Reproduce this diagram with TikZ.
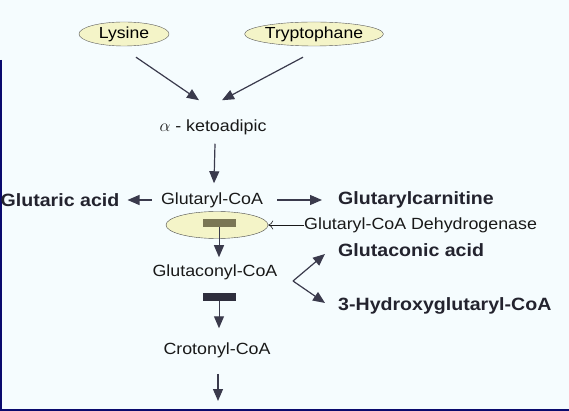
\documentclass[tikz,border=0pt]{standalone}
\usepackage{fontspec}
\setmainfont{Liberation Sans}[FakeStretch=1.1]
\usepackage{tikz}
\usetikzlibrary{arrows.meta,shapes.geometric}

\definecolor{ink}{HTML}{3A3A4C}
\definecolor{pale}{HTML}{F4F4C8}
\definecolor{navy}{HTML}{0A0A6E}

\tikzset{
  mol/.style={inner sep=0pt,text=black!90,font=\fontsize{16.2}{19}\selectfont},
  prod/.style={inner sep=0pt,font=\fontsize{17.8}{21}\bfseries\selectfont,text=ink!60!black},
  src/.style={ellipse,draw=gray!70!black,fill=pale,inner sep=0pt,font=\fontsize{16}{19}\selectfont},
  arr/.style={draw=ink,line width=1.2pt,-{Triangle[length=12pt,width=10pt]}},
  blockbar/.style={draw=none,minimum width=33pt,minimum height=8pt,inner sep=0pt}
}

\begin{document}
\begin{tikzpicture}[x=1pt,y=-1pt]
\fill[white!96!cyan] (0,0) rectangle (569,411);
\useasboundingbox (0,0) rectangle (569,411);
\draw[navy,line width=1.6pt] (0.8,60) -- (0.8,410.2) -- (569,410.2);

% sources
\node[src,minimum width=90pt,minimum height=24pt] (lys) at (124,34) {Lysine};
\node[src,minimum width=126pt,minimum height=24pt] (trp) at (314,34) {Tryptophane};
\node[mol] (keto) at (213,127) {$\alpha$ - ketoadipic};
\draw[arr] ([shift={(12,11)}]lys.south) -- ([shift={(-14,-19)}]keto.north);
\draw[arr] ([shift={(-11,11)}]trp.south) -- ([shift={(9,-19)}]keto.north);

% glutaryl-CoA and side products
\node[mol] (glutcoa) at (212,200) {Glutaryl-CoA};
\node[prod,anchor=west] (glutacid) at (0.5,200) {Glutaric acid};
\node[prod,anchor=west] (carn) at (338,200) {Glutarylcarnitine};
\draw[arr] ([shift={(2,9)}]keto.south) -- ([shift={(2,-9)}]glutcoa.north);
\draw[arr,shorten <=9pt,shorten >=8pt] (glutcoa.west) -- (glutacid.east);
\draw[arr,shorten <=14pt,shorten >=16pt] (glutcoa.east) -- (carn.west);

% dehydrogenase block
\node[ellipse,draw=gray!60!black,fill=pale,minimum width=102pt,minimum height=27pt,inner sep=0pt] (dh) at (217,225) {};
\node[blockbar,fill=olive!40!black!75] (bar1) at (219,223) {};
\node[mol,anchor=west] (enz) at (304,225) {Glutaryl-CoA Dehydrogenase};
\draw[gray!20!black,line width=0.6pt,-{To[length=5pt,width=9pt]}] (enz.west) -- (dh.east);

% glutaconyl-CoA
\node[mol] (gconcoa) at (215,272) {Glutaconyl-CoA};
\node[prod,anchor=west] (gconacid) at (338,250) {Glutaconic acid};
\node[prod,anchor=west] (hydroxy) at (338,306) {3-Hydroxyglutaryl-CoA};
\coordinate (a1) at (bar1.south |- gconcoa.north);
\draw[arr,line width=1pt,shorten >=7pt] (bar1.south) -- (a1);
\coordinate (fork) at (293,281);
\draw[arr] (fork) -- ([shift={(-13,4)}]gconacid.west);
\draw[arr] (fork) -- ([shift={(-13,-3)}]hydroxy.west);

% crotonyl-CoA
\node[blockbar,fill=ink!80!black] (bar2) at (219,297) {};
\node[mol] (croton) at (217,350) {Crotonyl-CoA};
\coordinate (a2) at (bar2.south |- croton.north);
\draw[arr,line width=1pt,shorten >=14pt] (bar2.south) -- (a2);
\coordinate (next) at (croton.south |- 0,401);
\draw[arr] ([shift={(1,16)}]croton.south) -- ([shift={(1,0)}]next);
\end{tikzpicture}
\end{document}
